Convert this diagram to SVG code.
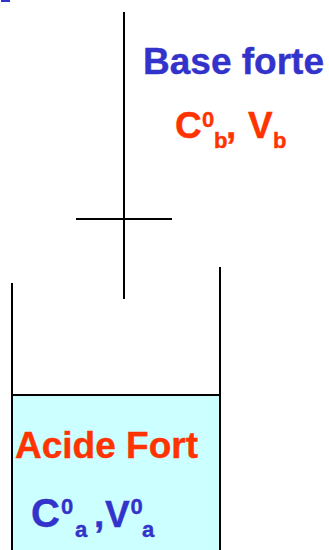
<svg xmlns="http://www.w3.org/2000/svg" width="329" height="550" viewBox="0 0 329 550">
<style>
text{font-family:"Liberation Sans",Arial,sans-serif;font-weight:700}
.l{stroke:#000;stroke-width:2;fill:none}
.blue{fill:#3333cc;stroke:#3333cc;stroke-width:.4}
.red{fill:#ff3300;stroke:#ff3300;stroke-width:.4}
.big{font-size:37px}
.sym{font-size:37px}
.lg{font-size:40px}
.sm{font-size:22px}
</style>
<rect width="329" height="550" fill="#fff"/>
<rect x="1" y="0" width="9" height="2" fill="#3333cc"/>
<g id="liquid"><rect x="12" y="395" width="207" height="155" fill="#ccffff"/></g>
<g id="connectors">
<path class="l" d="M124 12V299"/>
<path class="l" d="M76 219H172"/>
<path class="l" d="M12 283V550"/>
<path class="l" d="M220 267V550"/>
<path class="l" d="M12 395H219"/>
</g>
<g id="base-label">
<text class="blue big" x="143" y="74">Base forte</text>
<text class="red sym" x="175" y="138">C</text>
<text class="red sm" x="202" y="127">0</text>
<text class="red sm" x="214" y="148">b</text>
<text class="red sym" x="226" y="138">,</text>
<text class="red sym" x="248" y="138">V</text>
<text class="red sm" x="273" y="148">b</text>
</g>
<g id="acide-label">
<text class="red big" x="15" y="458">Acide Fort</text>
<text class="blue lg" x="31" y="527">C</text>
<text class="blue sm" x="61" y="514">0</text>
<text class="blue sm" x="75" y="537">a</text>
<text class="blue sym" x="94" y="527">,</text>
<text class="blue sym" x="105" y="527">V</text>
<text class="blue sm" x="130.500" y="514">0</text>
<text class="blue sm" x="142" y="537">a</text>
</g>
</svg>
